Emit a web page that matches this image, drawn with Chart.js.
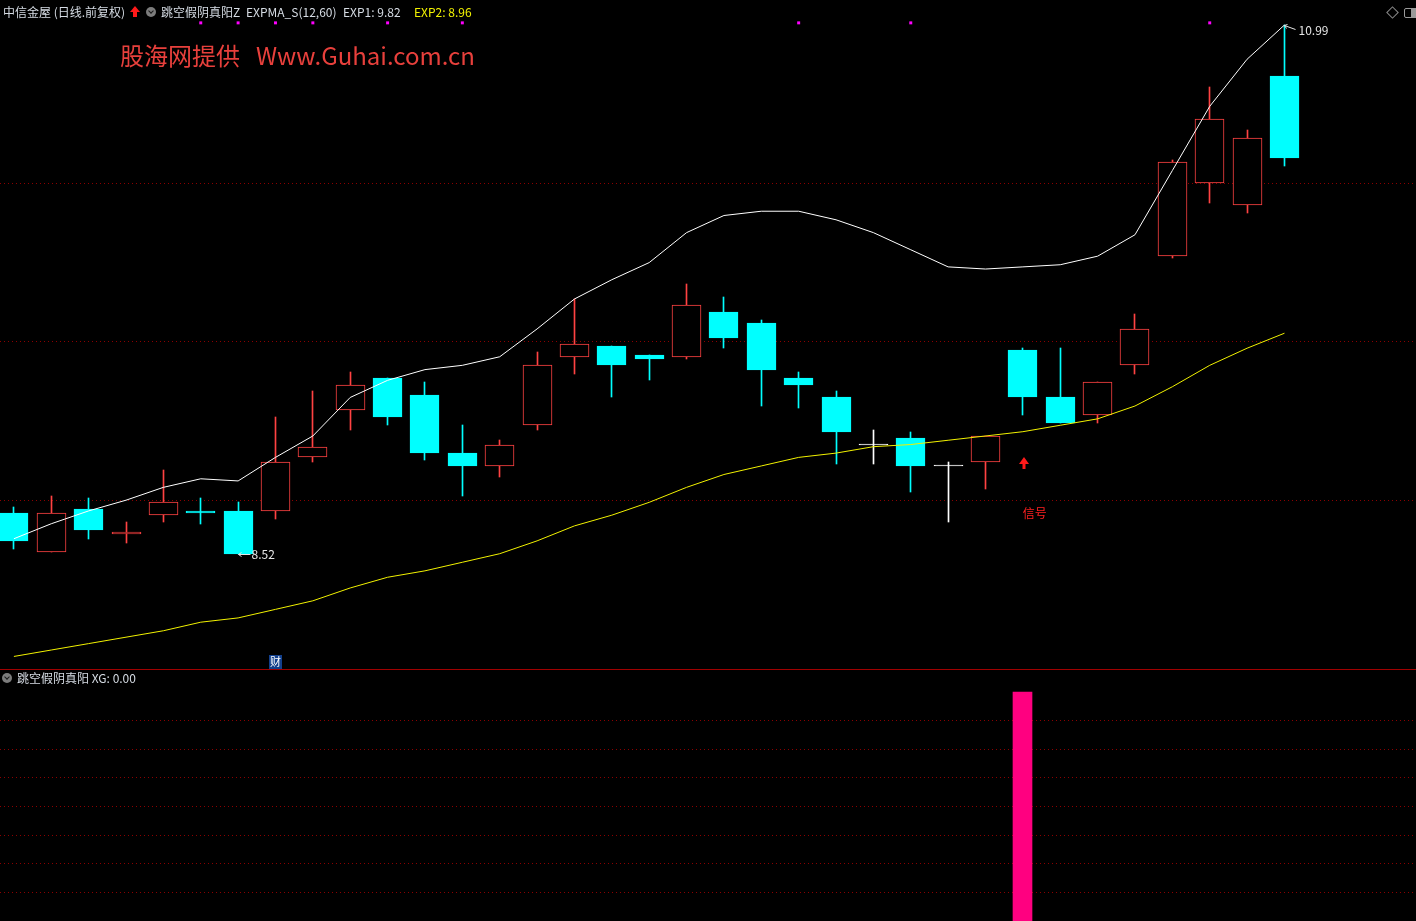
<!DOCTYPE html>
<html>
<head>
<meta charset="utf-8">
<script src="https://cdn.jsdelivr.net/npm/chart.js@4.4.1/dist/chart.umd.min.js"></script>
<style>
  html, body { margin: 0; padding: 0; background: #000; }
  body { width: 1416px; height: 921px; position: relative; overflow: hidden; font-family: "Noto Sans CJK SC", sans-serif; }
  canvas { position: absolute; left: 0; }
  #main { top: 0; }
  #sub { top: 671px; }
  .txt { position: absolute; font-size: 12px; line-height: 16px; color: #d6dce4; white-space: pre; }
  .wm { position: absolute; font-size: 24px; line-height: 28px; color: #e8403c; white-space: pre; }
  .sep { position: absolute; left: 0; width: 1416px; height: 1px; background: #a00000; }
  .tri { position: absolute; width: 0; height: 0; border-left: 5px solid transparent; border-right: 5px solid transparent; border-bottom: 6px solid #ff1a1a; }
  .shaft { position: absolute; width: 4px; height: 5px; background: #ff1a1a; }
  .circ { position: absolute; width: 10px; height: 10px; border-radius: 50%; background: #7c7c7c; }
  .circ::after { content: ""; position: absolute; left: 3px; top: 1.5px; width: 3px; height: 3px; border-right: 1.5px solid #1a1a1a; border-bottom: 1.5px solid #1a1a1a; transform: rotate(45deg); }
  .diamond { position: absolute; left: 1388px; top: 8px; width: 7px; height: 7px; border: 1px solid #8a8a8a; transform: rotate(45deg); }
  .panel { position: absolute; left: 1404px; top: 8px; width: 14px; height: 8px; border: 1px solid #9a9a9a; border-radius: 2px; }
  .panel::after { content: ""; position: absolute; left: 6px; top: 0; width: 8px; height: 8px; background: #9a9a9a; }
</style>
</head>
<body>
<canvas id="main" width="1416" height="670"></canvas>
<canvas id="sub" width="1416" height="250"></canvas>

<div class="txt" style="left:3px;top:4px;">中信金屋 (日线.前复权)</div>
<div class="tri" style="left:130px;top:6px;"></div>
<div class="shaft" style="left:133px;top:12px;"></div>
<div class="circ" style="left:146px;top:7px;"></div>
<div class="txt" style="left:161px;top:4px;">跳空假阴真阳Z</div>
<div class="txt" style="left:246px;top:4px;">EXPMA_S(12,60)</div>
<div class="txt" style="left:343px;top:4px;">EXP1: 9.82</div>
<div class="txt" style="left:414px;top:4px;color:#f2f200;">EXP2: 8.96</div>
<div class="diamond"></div>
<div class="panel"></div>

<div class="wm" style="left:120px;top:41px;">股海网提供</div>
<div class="wm" style="left:256px;top:41px;">Www.Guhai.com.cn</div>

<div class="sep" style="top:669px;"></div>
<div class="circ" style="left:2px;top:673px;"></div>
<div class="txt" style="left:17px;top:670px;">跳空假阴真阳 XG: 0.00</div>

<script>
// ===== datos de las velas (35 dias) =====
const opens  = [8.71, 8.53, 8.73, 8.61, 8.70, 8.72, 8.72, 8.72, 8.97, 9.19,
                9.34, 9.26, 8.99, 8.93, 9.12, 9.44, 9.49, 9.45, 9.44, 9.65,
                9.60, 9.34, 9.25, 9.03, 9.06, 8.93, 8.95, 9.47, 9.25, 9.17,
                9.40, 9.91, 10.25, 10.15, 10.75];
const highs  = [8.74, 8.79, 8.78, 8.67, 8.91, 8.78, 8.76, 9.16, 9.28, 9.37,
                9.34, 9.32, 9.12, 9.05, 9.46, 9.71, 9.49, 9.45, 9.78, 9.72,
                9.61, 9.37, 9.28, 9.10, 9.09, 8.95, 9.07, 9.48, 9.48, 9.32,
                9.64, 10.36, 10.70, 10.50, 10.99];
const lows   = [8.54, 8.53, 8.59, 8.57, 8.67, 8.66, 8.52, 8.68, 8.95, 9.10,
                9.12, 8.96, 8.79, 8.88, 9.10, 9.36, 9.25, 9.33, 9.43, 9.48,
                9.21, 9.20, 8.94, 8.94, 8.81, 8.67, 8.82, 9.17, 9.13, 9.13,
                9.36, 9.90, 10.16, 10.11, 10.33];
const closes = [8.58, 8.71, 8.63, 8.62, 8.76, 8.71, 8.52, 8.95, 9.02, 9.31,
                9.16, 8.99, 8.93, 9.03, 9.40, 9.50, 9.40, 9.43, 9.68, 9.53,
                9.38, 9.31, 9.09, 9.03, 8.93, 8.93, 9.07, 9.25, 9.13, 9.32,
                9.57, 10.35, 10.55, 10.46, 10.37];

// lineas EXPMA
const exp1 = [8.59, 8.66, 8.72, 8.77, 8.83, 8.87, 8.86, 8.97, 9.07, 9.25,
              9.33, 9.38, 9.40, 9.44, 9.57, 9.71, 9.80, 9.88, 10.02, 10.10,
              10.12, 10.12, 10.08, 10.02, 9.94, 9.86, 9.85, 9.86, 9.87, 9.91,
              10.01, 10.31, 10.61, 10.83, 10.99];
const exp2 = [8.04, 8.07, 8.10, 8.13, 8.16, 8.20, 8.22, 8.26, 8.30, 8.36,
              8.41, 8.44, 8.48, 8.52, 8.58, 8.65, 8.70, 8.76, 8.83, 8.89,
              8.93, 8.97, 8.99, 9.02, 9.03, 9.05, 9.07, 9.09, 9.12, 9.15,
              9.21, 9.30, 9.40, 9.48, 9.55];

// puntos magenta arriba, señal XG
const topDots = [5, 6, 7, 8, 10, 12, 21, 24, 32];
const topDotPrice = 11.00;
const xg = [0, 0, 0, 0, 0, 0, 0, 0, 0, 0,
            0, 0, 0, 0, 0, 0, 0, 0, 0, 0,
            0, 0, 0, 0, 0, 0, 0, 1, 0, 0,
            0, 0, 0, 0, 0];
const signalArrowPrice = 8.97;
const signalTextPrice = 8.71;
const caiIndex = 7;

// rejilla y rangos de escala
const mainGrid = [8.77, 9.51, 10.25];
const subGrid = [0.125, 0.25, 0.375, 0.5, 0.625, 0.75, 0.875];
const X_MIN = -0.372, X_MAX = 37.52;
const Y_MIN = 7.9767, Y_MAX = 11.1068;
const SUB_MAX = 1.0917;

const RED = '#ff4242', CYAN = '#00ffff', WHITE = '#ffffff';

function colorOf(i) {
  if (closes[i] > opens[i]) return RED;
  if (closes[i] < opens[i]) return CYAN;
  return WHITE;
}
const lineColors = opens.map((o, i) => colorOf(i));
const fillColors = opens.map((o, i) => colorOf(i) === RED ? '#000000' : colorOf(i));

// ajusta las barras a pixel entero para bordes nitidos
const snap = {
  id: 'snap',
  beforeDatasetsDraw(chart) {
    chart.getSortedVisibleDatasetMetas().forEach(meta => {
      if (meta.type !== 'bar') return;
      meta.data.forEach(el => {
        el.x = Math.floor(el.x) + 0.5;
        const top = Math.round(el.y);
        let base = Math.round(el.base);
        if (base === top) base = top + 1;
        el.y = top;
        el.base = base;
      });
    });
  }
};

// etiquetas: minimo, maximo, señal, 财
const marks = {
  id: 'marks',
  afterDatasetsDraw(chart) {
    const { ctx, scales: { x, y }, chartArea } = chart;
    ctx.save();
    ctx.font = '12px "Noto Sans CJK SC", sans-serif';
    ctx.textBaseline = 'middle';

    // minimo
    const lo = Math.min(...lows);
    const iLo = lows.indexOf(lo);
    let px = Math.round(x.getPixelForValue(iLo)) + 0.5;
    let py = Math.round(y.getPixelForValue(lo)) + 0.5;
    ctx.strokeStyle = '#e6e6e6';
    ctx.lineWidth = 1;
    ctx.beginPath();
    ctx.moveTo(px, py); ctx.lineTo(px + 12, py);
    ctx.moveTo(px, py); ctx.lineTo(px + 3, py - 2);
    ctx.moveTo(px, py); ctx.lineTo(px + 3, py + 2);
    ctx.stroke();
    ctx.fillStyle = '#e6e6e6';
    ctx.textAlign = 'left';
    ctx.fillText(lo.toFixed(2), px + 13, py);

    // maximo
    const hi = Math.max(...highs);
    const iHi = highs.indexOf(hi);
    px = Math.round(x.getPixelForValue(iHi)) + 0.5;
    py = Math.round(y.getPixelForValue(hi)) + 0.5;
    ctx.beginPath();
    ctx.moveTo(px, py); ctx.lineTo(px + 11, py + 4);
    ctx.moveTo(px, py); ctx.lineTo(px + 3, py - 1);
    ctx.moveTo(px, py); ctx.lineTo(px + 2, py + 3);
    ctx.stroke();
    ctx.fillText(hi.toFixed(2), px + 14, py + 5);

    // flecha de señal y texto
    const iSig = xg.indexOf(1);
    px = Math.round(x.getPixelForValue(iSig)) + 1;
    py = Math.round(y.getPixelForValue(signalArrowPrice));
    ctx.fillStyle = '#ff1a1a';
    ctx.beginPath();
    ctx.moveTo(px, py);
    ctx.lineTo(px + 5, py + 7);
    ctx.lineTo(px - 5, py + 7);
    ctx.closePath();
    ctx.fill();
    ctx.fillRect(px - 1.5, py + 7, 3, 5);
    ctx.fillStyle = '#ff2020';
    ctx.fillText('信号', x.getPixelForValue(iSig), y.getPixelForValue(signalTextPrice));

    // 财
    px = x.getPixelForValue(caiIndex);
    ctx.fillStyle = '#123f8c';
    ctx.fillRect(Math.round(px) - 6, chartArea.bottom - 15, 13, 14);
    ctx.fillStyle = '#ffffff';
    ctx.textAlign = 'center';
    ctx.font = '11px "Noto Sans CJK SC", sans-serif';
    ctx.fillText('财', Math.round(px) + 0.5, chartArea.bottom - 8);
    ctx.restore();
  }
};

new Chart(document.getElementById('main'), {
  type: 'bar',
  data: {
    datasets: [
      {
        type: 'line',
        label: 'EXP1',
        data: exp1.map((v, i) => ({ x: i, y: v })),
        borderColor: '#ffffff',
        borderWidth: 1,
        pointRadius: 0,
        tension: 0,
        order: 0
      },
      {
        type: 'line',
        label: 'EXP2',
        data: exp2.map((v, i) => ({ x: i, y: v })),
        borderColor: '#f2f200',
        borderWidth: 1,
        pointRadius: 0,
        tension: 0,
        order: 0
      },
      {
        type: 'line',
        label: 'dots',
        data: topDots.map(i => ({ x: i, y: topDotPrice })),
        showLine: false,
        pointStyle: 'rect',
        pointRadius: 2.1,
        pointBorderWidth: 0,
        pointBackgroundColor: '#ff00ff',
        order: 0
      },
      {
        label: 'cuerpo',
        data: opens.map((o, i) => ({ x: i, y: [o, closes[i]] })),
        backgroundColor: fillColors,
        borderColor: lineColors,
        borderWidth: 1,
        borderSkipped: false,
        barThickness: 29,
        minBarLength: 1,
        grouped: false,
        order: 1
      },
      {
        label: 'mecha',
        data: lows.map((l, i) => ({ x: i, y: [l, highs[i]] })),
        backgroundColor: lineColors,
        borderWidth: 0,
        barThickness: 1,
        grouped: false,
        order: 2
      }
    ]
  },
  options: {
    responsive: false,
    animation: false,
    events: [],
    layout: { padding: 0, autoPadding: false },
    plugins: { legend: { display: false }, tooltip: { enabled: false } },
    scales: {
      x: { type: 'linear', min: X_MIN, max: X_MAX, display: false, offset: false },
      y: {
        type: 'linear', min: Y_MIN, max: Y_MAX,
        afterBuildTicks: s => { s.ticks = mainGrid.map(v => ({ value: v })); },
        ticks: { display: false },
        grid: { color: '#8c0000', lineWidth: 1, drawTicks: false },
        border: { display: false, dash: [1, 3] }
      }
    }
  },
  plugins: [snap, marks]
});

// ===== panel inferior XG =====
new Chart(document.getElementById('sub'), {
  type: 'bar',
  data: {
    datasets: [{
      label: 'XG',
      data: xg.map((v, i) => ({ x: i, y: v === 0 ? null : v })),
      backgroundColor: '#ff0080',
      barThickness: 19,
      grouped: false
    }]
  },
  options: {
    responsive: false,
    animation: false,
    events: [],
    layout: { padding: 0, autoPadding: false },
    plugins: { legend: { display: false }, tooltip: { enabled: false } },
    scales: {
      x: { type: 'linear', min: X_MIN, max: X_MAX, display: false, offset: false },
      y: {
        type: 'linear', min: 0, max: SUB_MAX,
        afterBuildTicks: s => { s.ticks = subGrid.map(v => ({ value: v })); },
        ticks: { display: false },
        grid: { color: '#8c0000', lineWidth: 1, drawTicks: false },
        border: { display: false, dash: [1, 3] }
      }
    }
  },
  plugins: [snap]
});
</script>
</body>
</html>
